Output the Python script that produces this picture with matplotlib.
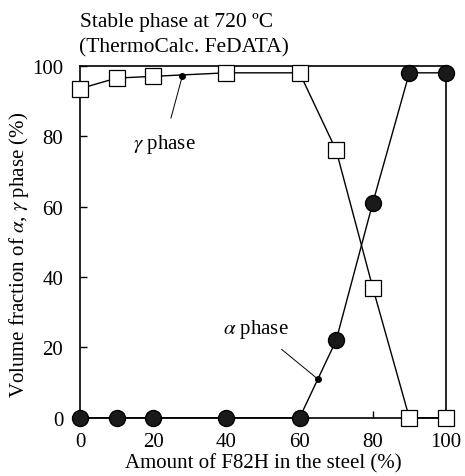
import matplotlib
matplotlib.use('Agg')
import matplotlib.pyplot as plt

# F82H content in the steel (%)
amount = [0, 10, 20, 40, 60, 70, 80, 90, 100]
gamma_frac = [93.5, 96.5, 97, 98, 98, 76, 37, 0, 0]
alpha_frac = [0, 0, 0, 0, 0, 22, 61, 98, 98]

# pointer dots on the curves for the labels
gamma_dot = (28, 97.2)
alpha_dot = (65, 11)

plt.rcParams['font.family'] = ['Liberation Serif', 'DejaVu Serif']
plt.rcParams['mathtext.fontset'] = 'stix'

fig = plt.figure(figsize=(4.65, 4.77), dpi=100)
ax = fig.add_axes([0.172, 0.122, 0.787, 0.738])

ax.plot(amount, gamma_frac, color='black', lw=1.0, marker='s', markersize=11,
        markerfacecolor='white', markeredgecolor='black', markeredgewidth=0.9,
        clip_on=False, zorder=3)
ax.plot(amount, alpha_frac, color='black', lw=1.0, marker='o', markersize=11.5,
        markerfacecolor='#1a1a1a', markeredgecolor='black', clip_on=False, zorder=3)

ax.plot(*gamma_dot, 'o', color='black', markersize=4, zorder=4)
ax.plot(*alpha_dot, 'o', color='black', markersize=4, zorder=4)

ax.annotate(r'$\gamma$ phase', xy=gamma_dot, xytext=(23, 78),
            fontsize=15, ha='center', va='center',
            arrowprops=dict(arrowstyle='-', color='black', lw=0.7, shrinkA=8, shrinkB=0))
ax.annotate(r'$\alpha$ phase', xy=alpha_dot, xytext=(48, 25.5),
            fontsize=15, ha='center', va='center',
            arrowprops=dict(arrowstyle='-', color='black', lw=0.7, shrinkA=8, shrinkB=0))

ax.set_xlim(0, 100)
ax.set_ylim(0, 100)
ax.set_xticks([0, 20, 40, 60, 80, 100])
ax.set_yticks([0, 20, 40, 60, 80, 100])
ax.tick_params(direction='in', length=5, width=1, labelsize=15)
ax.tick_params(axis='x', pad=10)
ax.tick_params(axis='y', pad=12)
for s in ax.spines.values():
    s.set_linewidth(1.2)

ax.set_xlabel('Amount of F82H in the steel (%)', fontsize=15, labelpad=2)
ax.set_ylabel(r'Volume fraction of $\alpha$, $\gamma$ phase (%)', fontsize=15)
ax.yaxis.set_label_coords(-0.135, 0.465)

fig.text(0.172, 0.952, 'Stable phase at 720 \u00baC', fontsize=15.5, ha='left', va='center')
fig.text(0.170, 0.899, '(ThermoCalc. FeDATA)', fontsize=15.5, ha='left', va='center')

fig.savefig('out.png', dpi=100)
